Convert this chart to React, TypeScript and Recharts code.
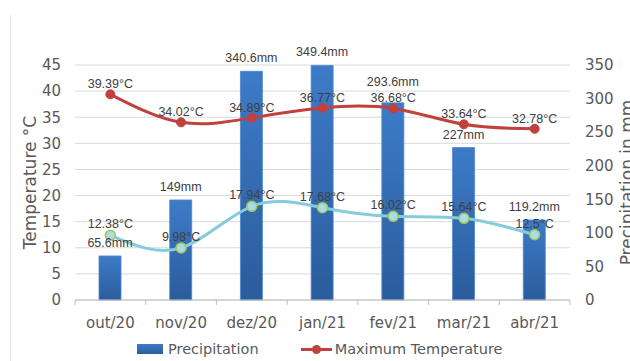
import { ComposedChart, Bar, Line, XAxis, YAxis, CartesianGrid, LabelList } from "recharts";

const months = ["out/20", "nov/20", "dez/20", "jan/21", "fev/21", "mar/21", "abr/21"];
const precipitation = [65.6, 149, 340.6, 349.4, 293.6, 227, 119.2];
const maxTemp = [39.39, 34.02, 34.89, 36.77, 36.68, 33.64, 32.78];
const minTemp = [12.38, 9.98, 17.94, 17.68, 16.02, 15.64, 12.5];
const tempTicks = [0, 5, 10, 15, 20, 25, 30, 35, 40, 45];
const rainTicks = [0, 50, 100, 150, 200, 250, 300, 350];

const data = months.map((m, i) => ({
	month: m,
	rain: precipitation[i],
	tmax: maxTemp[i],
	tmin: minTemp[i],
}));

const W = 630;
const H = 361;
const LEFT_W = 75;
const RIGHT_W = 60;
const TOP = 65;
const PLOT_H = 235;
const BAND = (W - LEFT_W - RIGHT_W) / months.length;
const TEMP_MAX = 45;

const AXIS_FONT = "'DejaVu Sans', sans-serif";
const LABEL_FONT = "'Liberation Sans', Arial, sans-serif";
const GREY = "#595959";
const LABEL_GREY = "#404040";

// category label plus Excel-style tick marks between categories
const MonthTick = (props: any) => {
	const { x, y, payload, index } = props;
	const last = index === months.length - 1;
	return (
		<g>
			<line x1={x - BAND / 2} x2={x - BAND / 2} y1={y} y2={y + 5} stroke="#bfbfbf" />
			{last && <line x1={x + BAND / 2} x2={x + BAND / 2} y1={y} y2={y + 5} stroke="#bfbfbf" />}
			<text x={x} y={y + 23} textAnchor="middle" dominantBaseline="central" fill={GREY} fontSize={15} fontFamily={AXIS_FONT}>
				{payload.value}
			</text>
		</g>
	);
};

const axisTitle = (text: string, cx: number) => (props: any) => {
	const vb = props.viewBox || {};
	const cy = vb.y + vb.height / 2;
	return (
		<text x={cx} y={cy} transform={`rotate(-90, ${cx}, ${cy})`} textAnchor="middle" dominantBaseline="central" fill={GREY} fontSize={17} fontFamily={AXIS_FONT}>
			{text}
		</text>
	);
};

// rain label sits above the bar; if it would run into the max-temp label, lift it above that one
const RainLabel = (props: any) => {
	const { x, y, width, value, index } = props;
	let base = y - 9;
	const tempBase = TOP + PLOT_H * (1 - maxTemp[index] / TEMP_MAX) - 6;
	if (Math.abs(base - tempBase) < 14) base = tempBase - 16;
	return (
		<text x={x + width / 2} y={base} textAnchor="middle" fill={LABEL_GREY} fontSize={12.5} fontFamily={LABEL_FONT}>
			{`${value}mm`}
		</text>
	);
};

const fmtTemp = (v: any) => `${v}°C`;

export default function App() {
	return (
		<div style={{ position: "absolute", left: 0, top: 0, width: W, height: H, background: "#fff", overflow: "hidden" }}>
			{/* chart area border */}
			<div style={{ position: "absolute", left: 10, top: 15, bottom: 0, width: 1, background: "#e3e3e3" }} />

			<ComposedChart width={W} height={H} data={data} margin={{ top: TOP, right: 0, left: 0, bottom: H - TOP - PLOT_H - 30 }}>
				<defs>
					<linearGradient id="rainGradient" x1="0" y1="0" x2="0" y2="1">
						<stop offset="0%" stopColor="#3d7bc8" />
						<stop offset="100%" stopColor="#2b5c9c" />
					</linearGradient>
				</defs>
				<CartesianGrid yAxisId="temp" vertical={false} stroke="#d9d9d9" />
				<XAxis dataKey="month" height={30} tickSize={0} tickMargin={0} tickLine={false} axisLine={{ stroke: "#bfbfbf" }} tick={<MonthTick />} interval={0} />
				<YAxis
					yAxisId="temp"
					width={LEFT_W}
					domain={[0, TEMP_MAX]}
					ticks={tempTicks}
					axisLine={false}
					tickLine={false}
					tickMargin={8}
					tick={{ fill: GREY, fontSize: 15, fontFamily: AXIS_FONT }}
					label={{ content: axisTitle("Temperature °C", 30) }}
				/>
				<YAxis
					yAxisId="rain"
					orientation="right"
					width={RIGHT_W}
					domain={[0, 350]}
					ticks={rainTicks}
					axisLine={false}
					tickLine={false}
					tickMargin={9}
					tick={{ fill: GREY, fontSize: 15, fontFamily: AXIS_FONT, textAnchor: "start" }}
					label={{ content: axisTitle("Precipitation in mm", 627) }}
				/>
				<Bar yAxisId="rain" dataKey="rain" barSize={22} fill="url(#rainGradient)" stroke="#4a86cf" strokeWidth={0.8} isAnimationActive={false}>
					<LabelList dataKey="rain" content={<RainLabel />} />
				</Bar>
				<Line
					yAxisId="temp"
					dataKey="tmax"
					type="natural"
					stroke="#c0413e"
					strokeWidth={3}
					dot={{ r: 4.5, fill: "#c0413e", stroke: "#c0413e", strokeWidth: 1 }}
					isAnimationActive={false}
				>
					<LabelList dataKey="tmax" position="top" offset={6} formatter={fmtTemp} fill={LABEL_GREY} fontSize={12.5} fontFamily={LABEL_FONT} />
				</Line>
				<Line
					yAxisId="temp"
					dataKey="tmin"
					type="natural"
					stroke="#86cbdd"
					strokeWidth={3}
					dot={{ r: 5, fill: "#a9dcea", stroke: "#a5c64f", strokeWidth: 1.5 }}
					isAnimationActive={false}
				>
					<LabelList dataKey="tmin" position="top" offset={7} formatter={fmtTemp} fill={LABEL_GREY} fontSize={12.5} fontFamily={LABEL_FONT} />
				</Line>
			</ComposedChart>

			{/* legend */}
			<div style={{ position: "absolute", top: 341, left: 137, display: "flex", alignItems: "center", fontFamily: AXIS_FONT, fontSize: 14.5, color: GREY, whiteSpace: "nowrap" }}>
				<span style={{ display: "inline-block", width: 26, height: 10, background: "linear-gradient(#3d7bc8, #2b5c9c)", marginRight: 5 }} />
				<span>Precipitation</span>
				<span style={{ position: "relative", display: "inline-block", width: 31, height: 10, marginLeft: 42, marginRight: 3 }}>
					<span style={{ position: "absolute", left: 0, right: 0, top: 4, height: 3, background: "#c0413e" }} />
					<span style={{ position: "absolute", left: 11, top: 1, width: 9, height: 9, borderRadius: "50%", background: "#c0413e" }} />
				</span>
				<span>Maximum Temperature</span>
			</div>
		</div>
	);
}
